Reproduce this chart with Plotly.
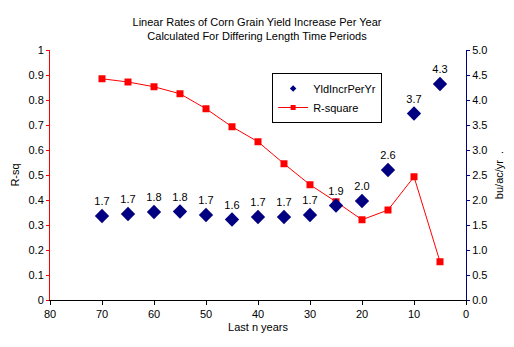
import plotly.graph_objects as go

# Length of trailing period (years) used for each regression
last_n_years = [70, 65, 60, 55, 50, 45, 40, 35, 30, 25, 20, 15, 10, 5]

# Coefficient of determination of each linear fit
r_square = [0.885, 0.872, 0.853, 0.825, 0.765, 0.693, 0.633,
            0.545, 0.461, 0.393, 0.321, 0.360, 0.493, 0.153]

# Linear rate of yield increase (bu/ac/yr)
yld_incr_per_yr = [1.68, 1.72, 1.76, 1.77, 1.70, 1.61, 1.66,
                   1.66, 1.70, 1.89, 1.98, 2.60, 3.73, 4.32]

FONT = "Liberation Sans, Arial, sans-serif"
NAVY = "#000080"
RED = "#FF0000"

fig = go.Figure()

fig.add_trace(go.Scatter(
    x=last_n_years, y=yld_incr_per_yr, name="YldIncrPerYr",
    mode="markers+text", yaxis="y2", showlegend=False,
    marker=dict(symbol="diamond", size=11, color=NAVY),
    texttemplate="%{y:.1f}", textposition="top center",
    textfont=dict(size=11, color="black", family=FONT),
))

fig.add_trace(go.Scatter(
    x=last_n_years, y=r_square, name="R-square",
    mode="lines+markers", showlegend=False,
    line=dict(color=RED, width=1),
    marker=dict(symbol="square", size=7, color=RED),
))

# Legend entries drawn with smaller symbols
fig.add_trace(go.Scatter(
    x=[None], y=[None], name="YldIncrPerYr", mode="markers",
    marker=dict(symbol="diamond", size=5, color=NAVY),
))
fig.add_trace(go.Scatter(
    x=[None], y=[None], name="R-square", mode="lines+markers",
    line=dict(color=RED, width=1),
    marker=dict(symbol="square", size=5, color=RED),
))

fig.update_layout(
    width=514, height=347,
    margin=dict(l=50, r=48, t=50, b=47),
    paper_bgcolor="white", plot_bgcolor="white",
    font=dict(family=FONT, size=11, color="black"),
    title=dict(
        text="Linear Rates of Corn Grain Yield Increase Per Year<br>"
             "Calculated For Differing Length Time Periods",
        x=0.5, xanchor="center", y=0.925, yanchor="top",
        font=dict(size=11, family=FONT, color="black"),
    ),
    showlegend=True,
    legend=dict(
        x=0.534, y=0.908, xanchor="left", yanchor="top",
        bgcolor="white", bordercolor="black", borderwidth=1,
        font=dict(size=11, family=FONT, color="black"),
        tracegroupgap=0, traceorder="normal",
    ),
    xaxis=dict(
        range=[80, 0], tickmode="linear", tick0=0, dtick=10,
        showgrid=False, zeroline=False,
        showline=True, linecolor="black", linewidth=1,
        ticks="outside", ticklen=4, tickcolor="black",
        title=dict(text="Last n years", standoff=4,
                   font=dict(size=11, family=FONT)),
    ),
    yaxis=dict(
        range=[0, 1], tickmode="linear", tick0=0, dtick=0.1,
        showgrid=False, zeroline=False,
        showline=True, linecolor=RED, linewidth=1,
        ticks="outside", ticklen=3, tickcolor=RED,
        title=dict(text="R-sq", standoff=6,
                   font=dict(size=11, family=FONT)),
    ),
    yaxis2=dict(
        range=[0, 5], tickmode="linear", tick0=0, dtick=0.5,
        tickformat=".1f", overlaying="y", side="right",
        showgrid=False, zeroline=False,
        showline=True, linecolor=NAVY, linewidth=1,
        ticks="outside", ticklen=3, tickcolor=NAVY,
        title=dict(text="bu/ac/yr  .", standoff=8,
                   font=dict(size=11, family=FONT)),
    ),
)

fig.write_html("out.html")
